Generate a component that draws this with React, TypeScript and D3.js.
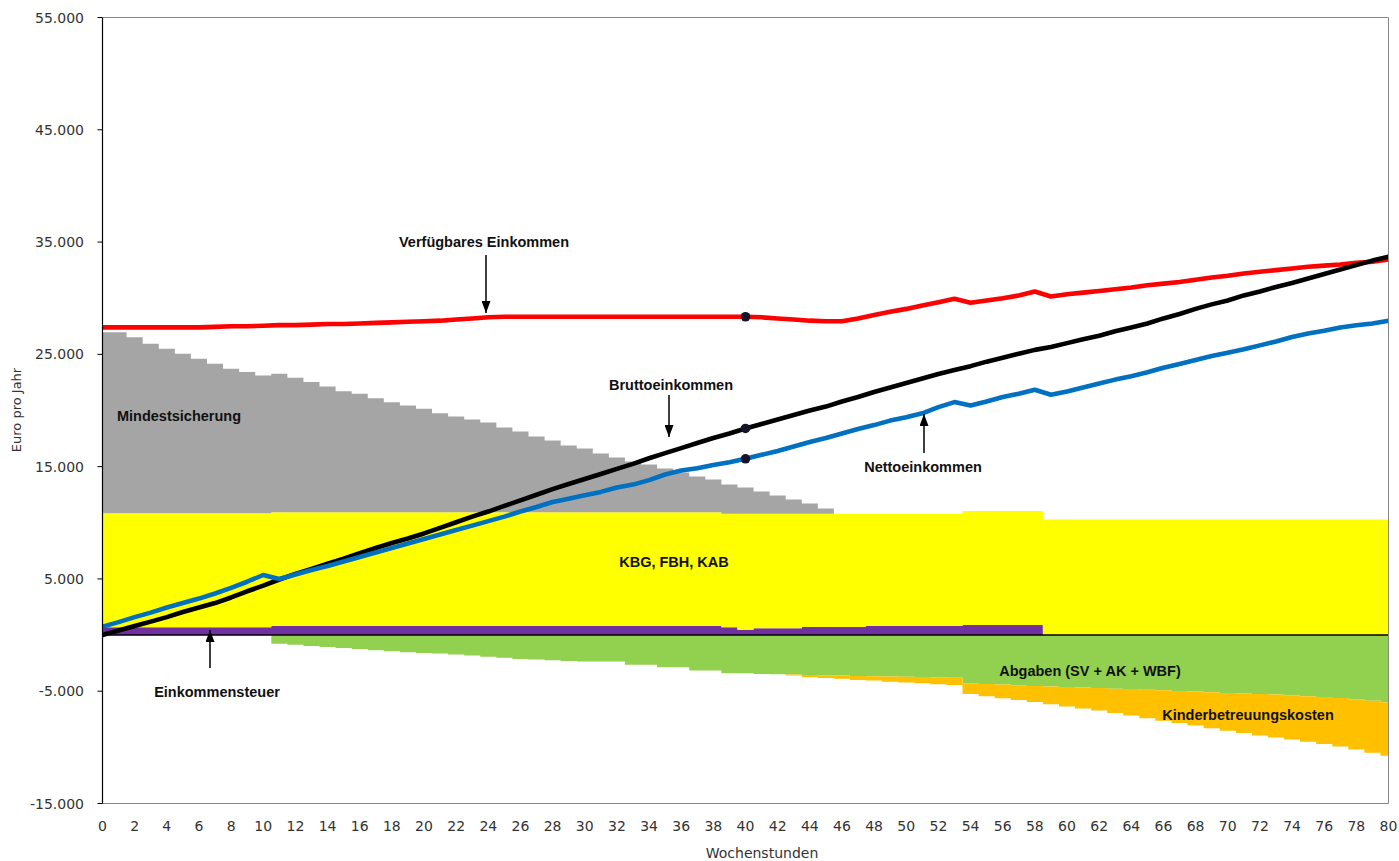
import React from "react";
import * as d3 from "d3";

// Categories: Wochenstunden 0..80
const hours = d3.range(0, 81);
const xTickLabels = d3.range(0, 81, 2);
const yTickValues = [-15000, -5000, 5000, 15000, 25000, 35000, 45000, 55000];

// Stacked column series (Euro pro Jahr)
const einkommensteuer = [
  700, 700, 700, 700, 700, 700, 700, 700, 700, 700, 700,
  800, 800, 800, 800, 800, 800, 800, 800, 800, 800, 800, 800, 800, 800,
  800, 800, 800, 800, 800, 800, 800, 800, 800, 800, 800, 800, 800, 800,
  700, 480, 600, 600, 600, 720, 720, 720, 720,
  800, 800, 800, 800, 800, 800,
  900, 900, 900, 900, 900,
  0, 0, 0, 0, 0, 0, 0, 0, 0, 0, 0, 0, 0, 0, 0, 0, 0, 0, 0, 0, 0, 0,
];

const kbgFbhKab = [
  10150, 10150, 10150, 10150, 10150, 10150, 10150, 10150, 10150, 10150, 10150,
  10140, 10140, 10140, 10140, 10140, 10140, 10140, 10140, 10140, 10140, 10140, 10140, 10140, 10140,
  10140, 10140, 10140, 10140, 10140, 10140, 10140, 10140, 10140, 10140, 10140, 10140, 10140, 10140,
  10100, 10320, 10200, 10200, 10200, 10080, 10080, 10080, 10080,
  10000, 10000, 10000, 10000, 10000, 10000,
  10160, 10160, 10160, 10160, 10160,
  10290, 10290, 10290, 10290, 10290, 10290, 10290, 10290, 10290, 10290, 10290,
  10290, 10290, 10290, 10290, 10290, 10290, 10290, 10290, 10290, 10290, 10290,
];

const mindestsicherung = [
  16130, 16130, 15680, 15100, 14650, 14200, 13760, 13310, 12870, 12570, 12270,
  12330, 11980, 11590, 11200, 10780, 10550, 10160, 9800, 9510, 9210,
  8820, 8530, 8260, 7990, 7550, 7190, 6750, 6390, 5940, 5680,
  5230, 4880, 4520, 4250, 3900, 3540, 3180, 2920, 2610, 2340,
  1990, 1630, 1270, 920, 470,
  0, 0, 0, 0, 0, 0, 0, 0, 0, 0, 0, 0, 0, 0, 0, 0, 0, 0,
  0, 0, 0, 0, 0, 0, 0, 0, 0, 0, 0, 0, 0, 0, 0, 0, 0, 0, 0,
];

const abgaben = [
  0, 0, 0, 0, 0, 0, 0, 0, 0, 0, 0,
  -780, -870, -980, -1070, -1160, -1250, -1350, -1440, -1520, -1590,
  -1650, -1740, -1830, -1920, -2020, -2120, -2180, -2250, -2320, -2360,
  -2360, -2360, -2650, -2650, -2870, -2870, -3160, -3160, -3400, -3400,
  -3460, -3490, -3520, -3550, -3580, -3610, -3640, -3670, -3700, -3720,
  -3740, -3760, -3790, -4300, -4350, -4410, -4470, -4530, -4590, -4630,
  -4680, -4720, -4770, -4810, -4860, -4920, -4970, -5030, -5100, -5150,
  -5210, -5240, -5300, -5360, -5440, -5520, -5610, -5720, -5840, -5990,
];

const kinderbetreuung = [
  0, 0, 0, 0, 0, 0, 0, 0, 0, 0, 0, 0, 0, 0, 0, 0, 0, 0, 0, 0, 0,
  0, 0, 0, 0, 0, 0, 0, 0, 0, 0, 0, 0, 0, 0, 0, 0, 0, 0, 0, 0, 0, 0,
  -90, -200, -250, -290, -360, -380, -450, -510, -550, -610, -650,
  -940, -1090, -1220, -1320, -1440, -1560, -1740, -1870, -2000, -2180,
  -2360, -2540, -2700, -2870, -3030, -3190, -3360, -3520, -3710, -3830,
  -3950, -4050, -4170, -4320, -4480, -4630, -4750,
];

// Line series
const bruttoeinkommen = [
  0, 400, 800, 1200, 1600, 2050, 2450, 2850, 3350, 3900, 4400,
  4950, 5450, 5900, 6350, 6800, 7300, 7750, 8200, 8600, 9050,
  9550, 10050, 10550, 11000, 11500, 12000, 12500, 13000, 13450, 13900,
  14350, 14800, 15250, 15750, 16200, 16650, 17100, 17550, 17950, 18400,
  18800, 19200, 19600, 20000, 20350, 20800, 21200, 21650, 22050, 22450,
  22850, 23250, 23600, 23950, 24350, 24700, 25050, 25400, 25650, 26000,
  26350, 26650, 27050, 27400, 27750, 28200, 28600, 29050, 29450, 29800,
  30250, 30600, 31000, 31350, 31750, 32150, 32550, 32950, 33350, 33700,
];

const nettoeinkommen = [
  750, 1150, 1600, 2000, 2450, 2850, 3250, 3700, 4200, 4750, 5350,
  5000, 5400, 5800, 6150, 6550, 6950, 7350, 7750, 8150, 8550,
  8950, 9350, 9750, 10150, 10550, 11000, 11400, 11850, 12150, 12450,
  12750, 13150, 13400, 13800, 14300, 14650, 14850, 15150, 15400, 15700,
  16050, 16400, 16800, 17200, 17550, 17950, 18350, 18700, 19100, 19400,
  19750, 20300, 20750, 20450, 20800, 21200, 21500, 21850, 21400, 21700,
  22050, 22400, 22750, 23050, 23400, 23800, 24150, 24500, 24850, 25150,
  25450, 25800, 26150, 26550, 26850, 27100, 27400, 27600, 27750, 28000,
];

const verfuegbaresEinkommen = [
  27400, 27400, 27400, 27400, 27400, 27400, 27400, 27450, 27500, 27500, 27550,
  27600, 27600, 27650, 27700, 27700, 27750, 27800, 27850, 27900, 27950,
  28000, 28100, 28200, 28300, 28350, 28350, 28350, 28350, 28350, 28350,
  28350, 28350, 28350, 28350, 28350, 28350, 28350, 28350, 28350, 28350,
  28300, 28200, 28100, 28000, 27950, 27950, 28200, 28500, 28800, 29050,
  29350, 29650, 29950, 29600, 29800, 30000, 30250, 30600, 30150, 30350,
  30500, 30650, 30800, 30950, 31150, 31300, 31450, 31650, 31850, 32000,
  32200, 32350, 32500, 32650, 32800, 32900, 33000, 33150, 33250, 33450,
];

const markerHour = 40;

const W = 1399;
const H = 861;
const PL = 102.5;
const PR = 1388.5;
const PT = 17.5;
const PB = 803.5;

const locale = d3.formatLocale({
  decimal: ",",
  thousands: ".",
  grouping: [3],
  currency: ["", " €"],
  minus: "-",
});
const fmt = locale.format(",");

const labelFont = "'Liberation Sans', Arial, sans-serif";
const axisFont = "'DejaVu Sans', Verdana, sans-serif";

export default function App() {
  const x = d3.scaleLinear().domain([0, 80]).range([PL, PR]);
  const y = d3.scaleLinear().domain([-15000, 55000]).range([PB, PT]);

  const rows = hours.map((h, i) => ({
    h,
    est: einkommensteuer[i],
    kbg: kbgFbhKab[i],
    ms: mindestsicherung[i],
    ab: abgaben[i],
    kb: kinderbetreuung[i],
  }));
  const keys = ["est", "kbg", "ms", "ab", "kb"];
  const colors: Record<string, string> = {
    est: "#7030a0",
    kbg: "#ffff00",
    ms: "#a5a5a5",
    ab: "#92d050",
    kb: "#ffc000",
  };
  const series = d3
    .stack<any>()
    .keys(keys)
    .offset(d3.stackOffsetDiverging)(rows as any);

  const area = d3
    .area<{ x: number; y0: number; y1: number }>()
    .x((d) => x(d.x))
    .y0((d) => y(d.y0))
    .y1((d) => y(d.y1));

  const line = d3
    .line<number>()
    .x((_, i) => x(hours[i]))
    .y((v) => y(v));

  const lines = [
    { data: verfuegbaresEinkommen, color: "#ff0000" },
    { data: bruttoeinkommen, color: "#000000" },
    { data: nettoeinkommen, color: "#0070c0" },
  ];

  const mi = hours.indexOf(markerHour);

  const arrows = [
    { x: 486, y1: 255, y2: 313 },
    { x: 669, y1: 395, y2: 437 },
    { x: 924, y1: 453, y2: 414 },
    { x: 210, y1: 668, y2: 630 },
  ];

  const texts = [
    { t: "Verfügbares Einkommen", x: 484, y: 247 },
    { t: "Mindestsicherung", x: 179, y: 421 },
    { t: "Bruttoeinkommen", x: 671, y: 389.5 },
    { t: "Nettoeinkommen", x: 923, y: 471.5 },
    { t: "KBG, FBH, KAB", x: 674, y: 567 },
    { t: "Einkommensteuer", x: 217, y: 696.5 },
    { t: "Abgaben (SV + AK + WBF)", x: 1090, y: 676 },
    { t: "Kinderbetreuungskosten", x: 1248, y: 720 },
  ];

  return (
    <svg
      width={W}
      height={H}
      style={{ position: "absolute", left: 0, top: 0, background: "#fff" }}
    >
      <defs>
        <clipPath id="plot">
          <rect x={PL} y={PT} width={PR - PL} height={PB - PT} />
        </clipPath>
        <marker
          id="arrow"
          viewBox="0 0 12 9"
          refX="12"
          refY="4.5"
          markerWidth="12"
          markerHeight="9"
          markerUnits="userSpaceOnUse"
          orient="auto"
        >
          <path d="M0,0 L12,4.5 L0,9 z" fill="#000" />
        </marker>
      </defs>

      <g clipPath="url(#plot)">
        {series.map((s: any) => {
          const pts = s.flatMap((seg: any, i: number) => [
            { x: hours[i] - 0.5, y0: seg[0], y1: seg[1] },
            { x: hours[i] + 0.5, y0: seg[0], y1: seg[1] },
          ]);
          return (
            <path key={s.key} d={area(pts) || ""} fill={colors[s.key]} stroke="none" />
          );
        })}
        <line x1={PL} x2={PR} y1={y(0)} y2={y(0)} stroke="#000" strokeWidth={1.5} />
        {lines.map((l, k) => (
          <path
            key={k}
            d={line(l.data) || ""}
            fill="none"
            stroke={l.color}
            strokeWidth={4.6}
            strokeLinejoin="round"
            strokeLinecap="round"
          />
        ))}
        {lines.map((l, k) => (
          <circle
            key={"m" + k}
            cx={x(hours[mi])}
            cy={y(l.data[mi])}
            r={4.8}
            fill="#141428"
          />
        ))}
      </g>

      {/* plot border */}
      <line x1={PL} x2={PR} y1={PT} y2={PT} stroke="#888" strokeWidth={1} />
      <line x1={PR} x2={PR} y1={PT} y2={PB} stroke="#888" strokeWidth={1} />
      <line x1={PL} x2={PR} y1={PB} y2={PB} stroke="#888" strokeWidth={1} />
      <line x1={PL} x2={PL} y1={PT} y2={PB} stroke="#000" strokeWidth={1.2} />

      {/* y axis ticks and labels */}
      {yTickValues.map((v) => (
        <g key={v}>
          <line x1={PL - 5} x2={PL} y1={y(v)} y2={y(v)} stroke="#000" strokeWidth={1} />
          <text
            x={84}
            y={y(v)}
            textAnchor="end"
            dominantBaseline="central"
            fontFamily={axisFont}
            fontSize={14}
            fill="#333"
          >
            {fmt(v)}
          </text>
        </g>
      ))}

      {/* x axis labels */}
      {xTickLabels.map((h) => (
        <text
          key={h}
          x={x(h)}
          y={826}
          textAnchor="middle"
          dominantBaseline="central"
          fontFamily={axisFont}
          fontSize={14}
          fill="#333"
        >
          {h}
        </text>
      ))}

      <text
        x={762}
        y={858}
        textAnchor="middle"
        fontFamily={axisFont}
        fontSize={14}
        fill="#333"
      >
        Wochenstunden
      </text>
      <text
        transform={`translate(21, 410) rotate(-90)`}
        textAnchor="middle"
        fontFamily={axisFont}
        fontSize={13}
        fill="#333"
      >
        Euro pro Jahr
      </text>

      {/* annotations */}
      {arrows.map((a, i) => (
        <line
          key={i}
          x1={a.x}
          x2={a.x}
          y1={a.y1}
          y2={a.y2}
          stroke="#000"
          strokeWidth={1.5}
          markerEnd="url(#arrow)"
        />
      ))}
      {texts.map((t, i) => (
        <text
          key={i}
          x={t.x}
          y={t.y}
          textAnchor="middle"
          fontFamily={labelFont}
          fontWeight="bold"
          fontSize={14.5}
          fill="#111"
        >
          {t.t}
        </text>
      ))}
    </svg>
  );
}
